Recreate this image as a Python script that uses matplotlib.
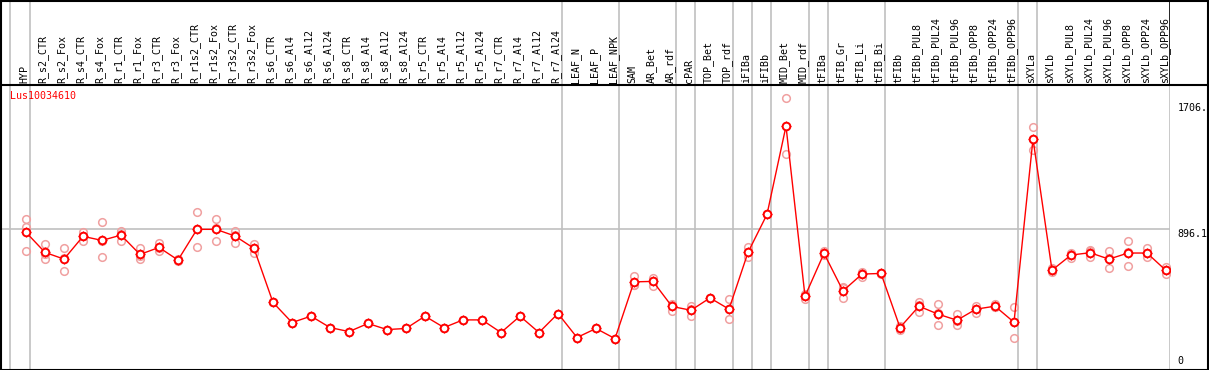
import numpy as np
import matplotlib
matplotlib.use('Agg')
import matplotlib.pyplot as plt
from matplotlib.patches import Rectangle
from matplotlib.lines import Line2D
import matplotlib.transforms as mtransforms

gene = 'Lus10034610'

samples = ['HYP', 'R_s2_CTR', 'R_s2_Fox', 'R_s4_CTR', 'R_s4_Fox', 'R_r1_CTR', 'R_r1_Fox',
           'R_r3_CTR', 'R_r3_Fox', 'R_r1s2_CTR', 'R_r1s2_Fox', 'R_r3s2_CTR', 'R_r3s2_Fox',
           'R_s6_CTR', 'R_s6_Al4', 'R_s6_Al12', 'R_s6_Al24', 'R_s8_CTR', 'R_s8_Al4',
           'R_s8_Al12', 'R_s8_Al24', 'R_r5_CTR', 'R_r5_Al4', 'R_r5_Al12', 'R_r5_Al24',
           'R_r7_CTR', 'R_r7_Al4', 'R_r7_Al12', 'R_r7_Al24', 'LEAF_N', 'LEAF_P', 'LEAF_NPK',
           'SAM', 'AR_Bet', 'AR_rdf', 'cPAR', 'TOP_Bet', 'TOP_rdf', 'iFIBa', 'iFIBb',
           'MID_Bet', 'MID_rdf', 'tFIBa', 'tFIB_Gr', 'tFIB_Li', 'tFIB_Bi', 'tFIBb',
           'tFIBb_PUL8', 'tFIBb_PUL24', 'tFIBb_PUL96', 'tFIBb_OPP8', 'tFIBb_OPP24',
           'tFIBb_OPP96', 'sXYLa', 'sXYLb', 'sXYLb_PUL8', 'sXYLb_PUL24', 'sXYLb_PUL96',
           'sXYLb_OPP8', 'sXYLb_OPP24', 'sXYLb_OPP96']

# mean expression
mean = [875, 746, 703, 849, 823, 857, 733, 778, 697, 894, 894, 851, 772,
        425, 296, 337, 264, 238, 290, 251, 258, 337, 264, 313, 313, 232, 337, 232, 354,
        200, 258, 193,
        557, 560, 399, 375, 454, 382, 746, 990, 1556, 465, 740, 499, 607, 611,
        264, 401, 350, 311, 382, 401, 298,
        1474, 632, 729, 744, 703, 742, 742, 630]

# replicates
rep1 = [960, 800, 772, 875, 939, 885, 772, 808, 705, 1007, 960, 885, 800,
        425, 296, 337, 264, 238, 290, 251, 258, 337, 264, 313, 313, 232, 337, 232, 354,
        200, 258, 193,
        596, 583, 418, 403, 454, 448, 778, 990, 1736, 476, 756, 519, 621, 617,
        277, 429, 414, 348, 405, 416, 395,
        1549, 645, 744, 764, 755, 817, 772, 654]
rep2 = [911, 701, 626, 819, 714, 819, 701, 754, 690, 778, 821, 808, 744,
        425, 296, 337, 264, 238, 290, 251, 258, 337, 264, 313, 313, 232, 337, 232, 354,
        200, 258, 193,
        540, 532, 371, 339, 454, 316, 714, 990, 1376, 450, 729, 454, 589, 605,
        247, 364, 279, 279, 356, 393, 197,
        1402, 620, 710, 714, 643, 658, 714, 605]
rep3 = [755, 737, 711, 853, 816, 867, 726, 772, 697, 897, 901, 860, 772,
        425, 296, 337, 264, 238, 290, 251, 258, 337, 264, 313, 313, 232, 337, 232, 354,
        200, 258, 193,
        535, 565, 408, 383, 454, 382, 746, 990, 1556, 469, 735, 524, 611, 611,
        268, 410, 357, 306, 385, 394, 302,
        1471, 631, 733, 754, 711, 751, 740, 631]

# last sample index of each group
group_ends = [0, 28, 31, 34, 35, 37, 38, 39, 41, 42, 45, 52, 53]

x = np.arange(len(samples))
W, H = 1209, 370
fig = plt.figure(figsize=(W / 100, H / 100), dpi=100)
grey = '#c0c0c0'

# data area in pixels: x 1..1170, y 85..369 (from top)
ax = fig.add_axes([1 / W, (H - 369) / H, 1169 / W, 284 / H])
hx = fig.add_axes([1 / W, (H - 85) / H, 1169 / W, 85 / H], sharex=ax)
ax.set_xlim((1 - 26) / 19, (1170 - 26) / 19)
ax.set_ylim(-2, 1820)
hx.set_ylim(0, 1)
for a in (ax, hx):
    a.set_xticks([])
    a.set_yticks([])
    for s in a.spines.values():
        s.set_visible(False)

# separators
seps = [-0.816] + [g + 0.23 for g in group_ends]
for s in seps:
    ax.axvline(s, color=grey, lw=1.2, zorder=1)
    hx.axvline(s, color=grey, lw=1.2, zorder=1)
ax.axvline(ax.get_xlim()[1] - 0.02, color=grey, lw=1.2)
hx.axvline(hx.get_xlim()[1] - 0.02, color='black', lw=1.2)
ax.axhline(896.1, color=grey, lw=1.2, zorder=1)

# replicates then means
for r in (rep1, rep2, rep3):
    ax.plot(x, r, 'o', mfc='none', mec='#f0a0a0', ms=5.5, mew=1.1, zorder=2)
ax.plot(x, mean, '-', color='red', lw=1, zorder=3)
ax.plot(x, mean, '+', color='red', ms=7.5, mew=0.7, zorder=3)
ax.plot(x, mean, 'o', mfc='white', mec='red', ms=5.5, mew=1.4, zorder=4)

for i, name in enumerate(samples):
    hx.text(i - 0.1, 0.025, name, rotation=90, ha='center', va='bottom',
            family='DejaVu Sans Mono', fontsize=7.2)

ax.text((10 - 1) / 1169, (369 - 91) / 284, gene, transform=ax.transAxes, color='red',
        ha='left', va='top', family='DejaVu Sans Mono', fontsize=7.2)

tr = mtransforms.blended_transform_factory(ax.transAxes, ax.transData)
ax.text(1.0065, 1706, '1706.', transform=tr, va='top', ha='left',
        family='DejaVu Sans Mono', fontsize=7.2, clip_on=False)
ax.text(1.0065, 896.1, '896.1', transform=tr, va='top', ha='left',
        family='DejaVu Sans Mono', fontsize=7.2, clip_on=False)
ax.text(1.0065, 18, '0', transform=tr, va='bottom', ha='left',
        family='DejaVu Sans Mono', fontsize=7.2, clip_on=False)

# frame and header line
fig.add_artist(Rectangle((0.5 / W, 0.5 / H), (W - 1.5) / W, (H - 1.5) / H, fill=False,
                         edgecolor='black', lw=1.5, transform=fig.transFigure))
fig.add_artist(Line2D([0, 1], [(H - 85) / H] * 2, color='black', lw=1.5,
                      transform=fig.transFigure))

fig.savefig('out.png', dpi=100, facecolor='white')
